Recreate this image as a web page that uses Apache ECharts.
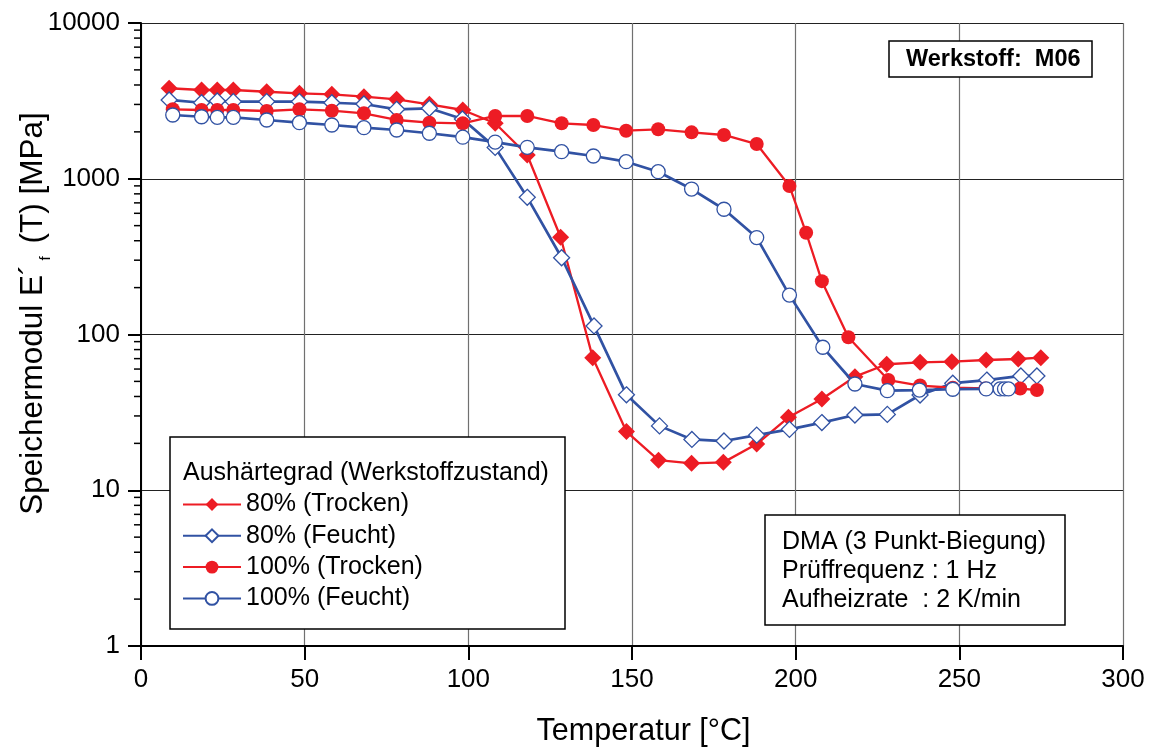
<!DOCTYPE html>
<html>
<head>
<meta charset="utf-8">
<script src="https://cdn.jsdelivr.net/npm/echarts@6/dist/echarts.min.js"></script>
<style>
html,body{margin:0;padding:0;background:#fff;}
#chart{width:1156px;height:749px;}
</style>
</head>
<body>
<div id="chart"></div>
<script>
// ---- Data ----
const xTicks = [0, 50, 100, 150, 200, 250, 300];
const yTicks = [1, 10, 100, 1000, 10000];

const t80Trocken = [8.6, 18.5, 23.3, 28.2, 38.4, 48.4, 58.3, 68.1, 78.1, 88.1, 98.3, 108.2, 118, 128.2, 138, 148.3, 158.1, 168.2, 177.9, 188.1, 197.8, 208, 218.1, 227.8, 238, 247.7, 258.2, 268, 274.9];
const v80Trocken = [3810, 3715, 3715, 3715, 3620, 3537, 3485, 3364, 3236, 3006, 2763, 2270, 1420, 421, 71, 23.8, 15.6, 14.9, 15.1, 19.8, 29.4, 38.5, 53.6, 64.4, 66.3, 66.9, 68.6, 69.6, 71];

const t80Feucht = [8.6, 18.5, 23.3, 28.2, 38.4, 48.4, 58.3, 68.1, 78.1, 88.1, 98.2, 108.2, 118, 128.5, 138.4, 148.3, 158.4, 168.3, 178.1, 188.1, 198.1, 208, 218.1, 228, 238, 248, 258.4, 268.8, 273.7];
const v80Feucht = [3206, 3077, 3158, 3128, 3128, 3128, 3077, 3020, 2792, 2834, 2420, 1590, 760, 311, 113.5, 41, 25.9, 21.2, 20.7, 22.6, 24.6, 27.2, 30.4, 30.7, 40.9, 48.7, 51, 54.2, 54.2];

const t100Trocken = [9.7, 18.5, 23.3, 28.2, 38.4, 48.4, 58.3, 68.1, 78.1, 88.1, 98.3, 108.2, 118, 128.5, 138.2, 148.2, 158, 168.2, 178.1, 188.1, 198.1, 203.2, 208, 216.1, 228.3, 238, 248, 258, 268.6, 273.7];
const v100Trocken = [2792, 2763, 2763, 2763, 2723, 2792, 2735, 2631, 2384, 2291, 2270, 2529, 2529, 2270, 2213, 2034, 2077, 1986, 1910, 1671, 898, 450, 220, 96, 51, 47, 45.5, 45, 45, 44];

const t100Feucht = [9.7, 18.5, 23.3, 28.2, 38.4, 48.4, 58.3, 68.1, 78.1, 88.1, 98.3, 108.2, 118, 128.5, 138.2, 148.2, 158, 168.2, 178.1, 188.1, 198.1, 208.3, 218.1, 228, 237.8, 248, 258.2, 262.5, 263.8, 265];
const v100Feucht = [2567, 2500, 2478, 2478, 2384, 2291, 2213, 2128, 2056, 1959, 1850, 1720, 1592, 1492, 1400, 1287, 1110, 859, 637, 419, 179, 82.8, 48.1, 43.6, 44, 44.5, 44.7, 44.7, 44.7, 44.7];

const seriesNames = ['80% (Trocken)', '80% (Feucht)', '100% (Trocken)', '100% (Feucht)'];
const legendTitle = 'Aushärtegrad (Werkstoffzustand)';
const infoLines = ['DMA (3 Punkt-Biegung)', 'Prüffrequenz : 1 Hz', 'Aufheizrate  : 2 K/min'];
const materialLabel = 'Werkstoff:  M06';

// minor ticks of the log axis (2..9 per decade)
const minorMultipliers = [2, 3, 4, 5, 6, 7, 8, 9];
const minorDecades = [1, 10, 100, 1000];

// ---- Build ----
const RED = '#ED1C24';
const BLUE = '#3152A3';
const FONT = '"Liberation Sans", Arial, sans-serif';

function zip(xs, ys) { return xs.map((x, i) => [x, ys[i]]); }

const minorTickData = [];
minorDecades.forEach(d => minorMultipliers.forEach(m => minorTickData.push([0, d * m])));

const chart = echarts.init(document.getElementById('chart'), null, {renderer: 'canvas'});

const option = {
  animation: false,
  backgroundColor: '#fff',
  textStyle: {fontFamily: FONT},
  grid: {left: 141, right: 33, top: 23, bottom: 103, containLabel: false, outerBoundsMode: 'none'},
  xAxis: {
    type: 'value', min: 0, max: 300, interval: 50,
    name: 'Temperatur [°C]', nameLocation: 'middle', nameGap: 70, nameMoveOverlap: false,
    nameTextStyle: {fontSize: 30.5, color: '#000', fontFamily: FONT, padding: [0, 0, 0, 23]},
    axisLine: {show: true, onZero: false, lineStyle: {color: '#000', width: 2}},
    axisTick: {show: true, inside: false, length: 14, lineStyle: {color: '#000', width: 2}},
    axisLabel: {fontSize: 26, color: '#000', margin: 21, fontFamily: FONT,
      formatter: v => xTicks.includes(v) ? String(v) : ''},
    splitLine: {show: true, lineStyle: {color: '#707070', width: 1.2}}
  },
  yAxis: {
    type: 'log', logBase: 10, min: 1, max: 10000,
    name: 'Speichermodul E´{s|f} (T) [MPa]', nameLocation: 'middle', nameGap: 88, nameMoveOverlap: false,
    nameTextStyle: {fontSize: 31.5, color: '#000', fontFamily: FONT, lineHeight: 40, padding: [0, 0, 0, 42],
      rich: {s: {fontSize: 15, fontFamily: FONT, color: '#000', verticalAlign: 'bottom', lineHeight: 40, padding: [0, 4, 0, 4]}}},
    axisLine: {show: true, onZero: false, lineStyle: {color: '#000', width: 2}},
    axisTick: {show: true, inside: false, length: 13, lineStyle: {color: '#000', width: 2}},
    axisLabel: {fontSize: 26, color: '#000', margin: 21, fontFamily: FONT,
      formatter: v => yTicks.includes(Math.round(v)) ? String(Math.round(v)) : ''},
    splitLine: {show: true, lineStyle: {color: '#222', width: 1.2}}
  },
  legend: {
    data: seriesNames,
    orient: 'vertical',
    left: 182, top: 492,
    padding: 0,
    itemWidth: 58, itemHeight: 16, itemGap: 6.3,
    textStyle: {fontSize: 25, color: '#000', fontFamily: FONT, lineHeight: 25},
    z: 20,
    selectedMode: false
  },
  graphic: [
    {type: 'rect', z: 10, shape: {x: 170, y: 437, width: 395, height: 192},
      style: {fill: '#fff', stroke: '#000', lineWidth: 1.5}},
    {type: 'text', z: 21, x: 183, y: 473,
      style: {text: legendTitle, font: '25px ' + FONT, fill: '#000', textVerticalAlign: 'middle'}},
    {type: 'rect', z: 10, shape: {x: 765, y: 515, width: 300, height: 110},
      style: {fill: '#fff', stroke: '#000', lineWidth: 1.5}},
    {type: 'text', z: 21, x: 782, y: 542,
      style: {text: infoLines[0], font: '25px ' + FONT, fill: '#000', textVerticalAlign: 'middle'}},
    {type: 'text', z: 21, x: 782, y: 571.5,
      style: {text: infoLines[1], font: '25px ' + FONT, fill: '#000', textVerticalAlign: 'middle'}},
    {type: 'text', z: 21, x: 782, y: 600,
      style: {text: infoLines[2], font: '25px ' + FONT, fill: '#000', textVerticalAlign: 'middle'}},
    {type: 'rect', z: 10, shape: {x: 889, y: 41, width: 203, height: 36},
      style: {fill: '#fff', stroke: '#000', lineWidth: 1.5}},
    {type: 'text', z: 21, x: 906, y: 60,
      style: {text: materialLabel, font: 'bold 23.5px ' + FONT, fill: '#000', textVerticalAlign: 'middle'}}
  ],
  series: [
    {
      name: seriesNames[0], type: 'line', data: zip(t80Trocken, v80Trocken),
      symbol: 'diamond', symbolSize: 17, z: 3,
      lineStyle: {color: RED, width: 2.3}, itemStyle: {color: RED, borderColor: RED, borderWidth: 0}
    },
    {
      name: seriesNames[1], type: 'line', data: zip(t80Feucht, v80Feucht),
      symbol: 'diamond', symbolSize: 16, z: 4,
      lineStyle: {color: BLUE, width: 2.7}, itemStyle: {color: '#fff', borderColor: BLUE, borderWidth: 1.3}
    },
    {
      name: seriesNames[2], type: 'line', data: zip(t100Trocken, v100Trocken),
      symbol: 'circle', symbolSize: 14, z: 5,
      lineStyle: {color: RED, width: 2.3}, itemStyle: {color: RED, borderColor: RED, borderWidth: 0}
    },
    {
      name: seriesNames[3], type: 'line', data: zip(t100Feucht, v100Feucht),
      symbol: 'circle', symbolSize: 14, z: 6,
      lineStyle: {color: BLUE, width: 2.7}, itemStyle: {color: '#fff', borderColor: BLUE, borderWidth: 1.3}
    },
    {
      type: 'custom', silent: true, clip: false, z: 7,
      data: minorTickData,
      encode: {x: 0, y: 1},
      renderItem: function (params, api) {
        const p = api.coord([api.value(0), api.value(1)]);
        return {type: 'line', shape: {x1: p[0] - 7, y1: p[1], x2: p[0] - 1, y2: p[1]},
          style: {stroke: '#000', lineWidth: 1.5}};
      }
    }
  ]
};
chart.setOption(option);
</script>
</body>
</html>
